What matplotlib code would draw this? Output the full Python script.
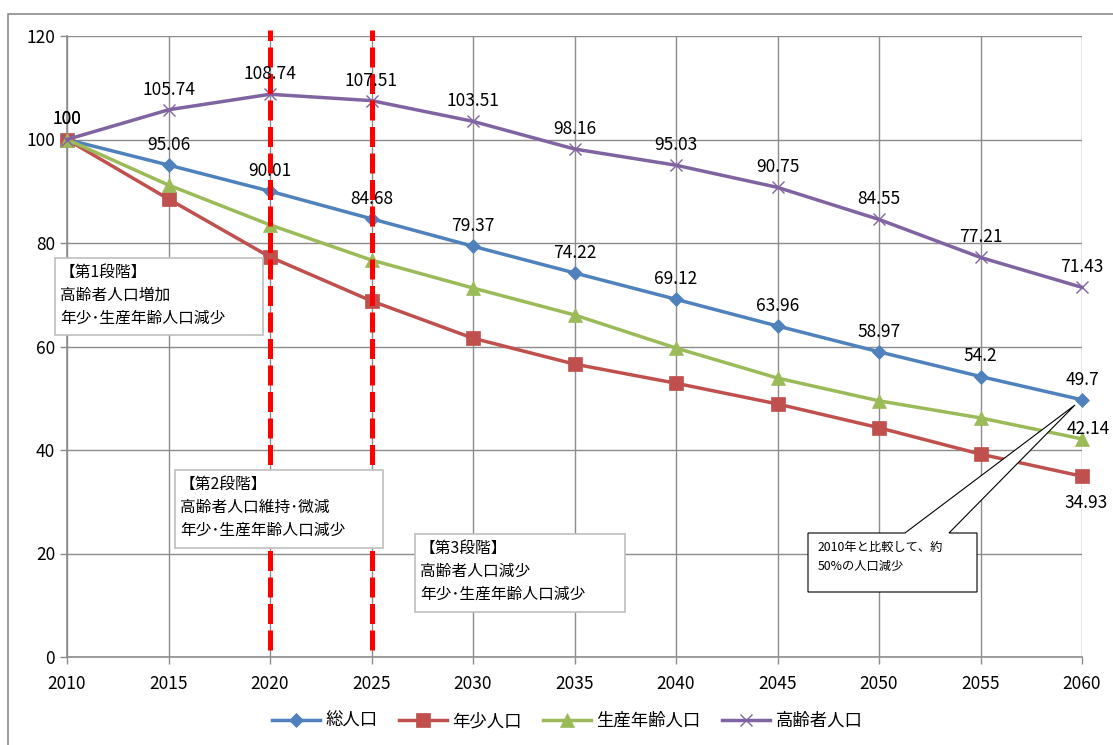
import matplotlib
matplotlib.use("Agg")
import matplotlib.pyplot as plt
from matplotlib.patches import Rectangle, Polygon

plt.rcParams['font.family'] = ['Noto Sans CJK JP', 'DejaVu Sans']

# 2010年=100 とした人口指数
years = [2010, 2015, 2020, 2025, 2030, 2035, 2040, 2045, 2050, 2055, 2060]
total = [100, 95.06, 90.01, 84.68, 79.37, 74.22, 69.12, 63.96, 58.97, 54.2, 49.7]
young = [100, 88.5, 77.3, 68.8, 61.6, 56.6, 52.9, 48.9, 44.3, 39.2, 34.93]
working = [100, 91.2, 83.5, 76.7, 71.3, 66.1, 59.7, 53.9, 49.5, 46.2, 42.14]
elderly = [100, 105.74, 108.74, 107.51, 103.51, 98.16, 95.03, 90.75, 84.55, 77.21, 71.43]

series_names = ['総人口', '年少人口', '生産年齢人口', '高齢者人口']
stage_years = [2020, 2025]
stage_texts = ['【第1段階】\n高齢者人口増加\n年少･生産年齢人口減少',
               '【第2段階】\n高齢者人口維持･微減\n年少･生産年齢人口減少',
               '【第3段階】\n高齢者人口減少\n年少･生産年齢人口減少']
callout_text = '2010年と比較して、約\n50%の人口減少'

W, H = 1113, 745
fig = plt.figure(figsize=(W / 100, H / 100), dpi=100)
ax = fig.add_axes([67 / W, 1 - 657 / H, (1082 - 67) / W, (657 - 36) / H])


def px(x, y):
    return x / W, 1 - y / H


# outer chart frame
fig.patches.append(Rectangle(px(8, 760), (W + 10) / W, (760 - 14) / H,
                             transform=fig.transFigure, fill=False,
                             edgecolor='#8c8c8c', lw=1.2))

colors = ['#4F81BD', '#C0504D', '#9BBB59', '#8064A2']
markers = ['D', 's', '^', 'x']
msizes = [7.5, 9.5, 9.5, 9]
data = [total, young, working, elderly]

for vals, c, m, ms, name in zip(data, colors, markers, msizes, series_names):
    ax.plot(years, vals, color=c, lw=2.5, marker=m, markersize=ms,
            markeredgewidth=1.0 if m == 'x' else 0.5, markeredgecolor=c,
            label=name, zorder=4, clip_on=False)

# data labels
for vals in (total, elderly):
    for x, v in zip(years, vals):
        ax.annotate(f'{v:g}', (x, v), xytext=(0, 8), textcoords='offset points',
                    ha='center', va='bottom', fontsize=12.5, color='black', zorder=6)
ax.annotate(f'{young[-1]:g}', (years[-1], young[-1]), xytext=(3, -13),
            textcoords='offset points', ha='center', va='top', fontsize=12.5, zorder=6)
ax.annotate(f'{working[-1]:g}', (years[-1], working[-1]), xytext=(20, 7),
            textcoords='offset points', ha='right', va='center', fontsize=12.5, zorder=6)

# stage boundaries
for yr in stage_years:
    ax.plot([yr, yr], [1.3, 121.2], color='#FF0000', lw=3.6, dashes=(4, 1.3),
            zorder=5, clip_on=False)

ax.set_xlim(2010, 2060)
ax.set_ylim(0, 120)
ax.set_xticks(years)
ax.set_yticks(range(0, 121, 20))
ax.grid(True, color='#8c8c8c', lw=1.0)
ax.set_axisbelow(True)
for s in ('top', 'right'):
    ax.spines[s].set_visible(False)
for s in ('left', 'bottom'):
    ax.spines[s].set_color('#8c8c8c')
    ax.spines[s].set_linewidth(1.2)
ax.tick_params(colors='#8c8c8c', labelcolor='black', labelsize=12.5, length=5, width=1)
ax.tick_params(axis='x', pad=8)

# stage text boxes
boxes = [(55, 258, 263, 335), (175, 470, 383, 548), (415, 534, 625, 612)]
for (x0, y0, x1, y1), txt in zip(boxes, stage_texts):
    fig.patches.append(Rectangle(px(x0, y1), (x1 - x0) / W, (y1 - y0) / H,
                                 transform=fig.transFigure, facecolor='white',
                                 edgecolor='#bfbfbf', lw=1.2, zorder=7))
    fig.text(*px(x0 + 5, y0 + 6), txt, fontsize=11.3, va='top', ha='left',
             linespacing=1.45, zorder=8)

# callout
pts = [(808, 533), (905, 533), (1075, 405), (949, 533), (977, 533), (977, 592), (808, 592)]
fig.patches.append(Polygon([px(x, y) for x, y in pts], closed=True,
                           transform=fig.transFigure, facecolor='white',
                           edgecolor='black', lw=0.8, zorder=7))
fig.text(*px(818, 541), callout_text, fontsize=8.8, va='top', ha='left',
         linespacing=1.6, zorder=8)

ax.legend(loc='center', bbox_to_anchor=(567 / W, 1 - 721 / H),
          bbox_transform=fig.transFigure, ncol=4, frameon=False, fontsize=12.5,
          handlelength=2.8, columnspacing=1.2, handletextpad=0.3)

fig.savefig('out.png', dpi=100)
